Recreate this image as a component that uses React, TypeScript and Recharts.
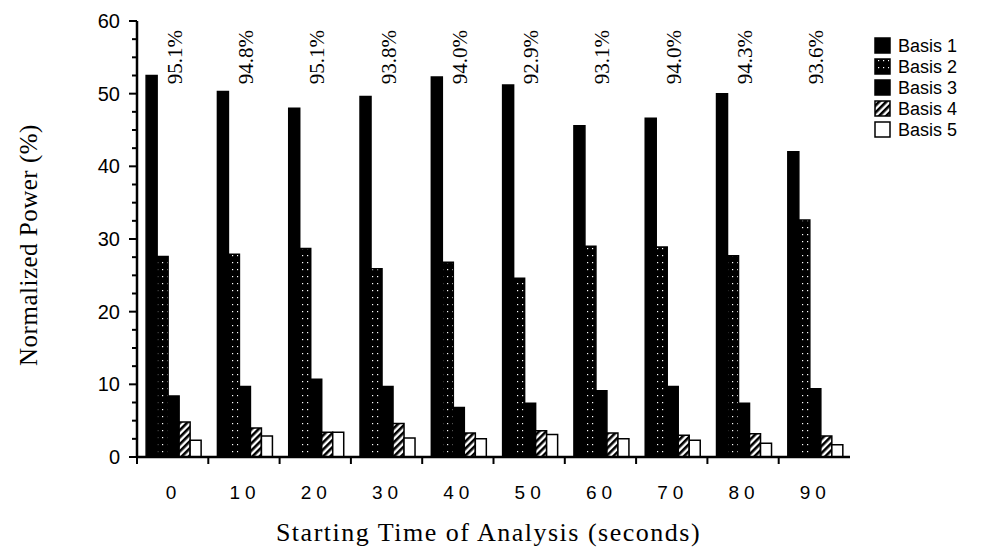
import { BarChart, Bar, XAxis, YAxis, Legend, LabelList } from "recharts"

const categories = ["0", "10", "20", "30", "40", "50", "60", "70", "80", "90"]
const basis1 = [52.5, 50.3, 48.0, 49.6, 52.3, 51.2, 45.6, 46.6, 50.0, 42.0]
const basis2 = [27.6, 27.9, 28.7, 25.9, 26.8, 24.6, 29.0, 28.9, 27.7, 32.6]
const basis3 = [8.4, 9.7, 10.7, 9.7, 6.8, 7.4, 9.1, 9.7, 7.4, 9.4]
const basis4 = [4.8, 4.0, 3.4, 4.6, 3.3, 3.6, 3.3, 3.0, 3.2, 2.9]
const basis5 = [2.3, 2.9, 3.4, 2.6, 2.5, 3.1, 2.5, 2.3, 1.9, 1.7]
const captured = ["95.1%", "94.8%", "95.1%", "93.8%", "94.0%", "92.9%", "93.1%", "94.0%", "94.3%", "93.6%"]
const yTicks = [0, 2.5, 5, 7.5, 10, 12.5, 15, 17.5, 20, 22.5, 25, 27.5, 30, 32.5, 35, 37.5, 40, 42.5, 45, 47.5, 50, 52.5, 55, 57.5, 60]

const data = categories.map((name, i) => ({
  name,
  b1: basis1[i],
  b2: basis2[i],
  b3: basis3[i],
  b4: basis4[i],
  b5: basis5[i],
  pct: captured[i],
}))

const series = [
  { key: "b1", name: "Basis 1", fill: "#000" },
  { key: "b2", name: "Basis 2", fill: "url(#dots)" },
  { key: "b3", name: "Basis 3", fill: "#000" },
  { key: "b4", name: "Basis 4", fill: "url(#hatch)" },
  { key: "b5", name: "Basis 5", fill: "#fff" },
]

const SANS = "'Liberation Sans', Arial, Helvetica, sans-serif"
const SERIF = "'Liberation Serif', 'Times New Roman', serif"
const MARGIN = { top: 21, right: 24, bottom: 61, left: 0 }

function YTick(props: any) {
  const { x, y, payload } = props
  const major = payload.value % 10 === 0
  return (
    <g>
      <line x1={x} x2={x - (major ? 8 : 5)} y1={y} y2={y} stroke="#000" strokeWidth={2} />
      {major && (
        <text x={x - 17} y={y} dy={7} textAnchor="end" fontFamily={SANS} fontSize={20} fill="#000">
          {payload.value}
        </text>
      )}
    </g>
  )
}

function XTick(props: any) {
  const { x, y, payload } = props
  const half = payload.offset ?? 35.6
  return (
    <g>
      <line x1={x - half} x2={x - half} y1={y} y2={y + 7} stroke="#000" strokeWidth={2} />
      <text
        x={x + 1}
        y={y + 42}
        textAnchor="middle"
        fontFamily={SANS}
        fontSize={19}
        letterSpacing={5}
        fill="#000"
      >
        {payload.value}
      </text>
    </g>
  )
}

function PctLabel(props: any) {
  const { x, width, index } = props
  const cx = x + width / 2 + 8
  const cy = MARGIN.top + 9
  return (
    <text
      x={cx}
      y={cy}
      transform={`rotate(-90, ${cx}, ${cy})`}
      textAnchor="end"
      fontFamily={SERIF}
      fontSize={21}
      fill="#000"
    >
      {captured[index]}
    </text>
  )
}

function LegendBox() {
  return (
    <svg width={130} height={110}>
      {series.map((s, i) => (
        <g key={s.key} transform={`translate(0, ${i * 21})`}>
          <rect x={9} y={2} width={15} height={15} fill={s.fill} stroke="#000" strokeWidth={1.5} />
          <text x={32} y={16} fontFamily={SANS} fontSize={18} fill="#000">
            {s.name}
          </text>
        </g>
      ))}
    </svg>
  )
}

export default function App() {
  return (
    <div style={{ position: "absolute", left: 0, top: 0, width: 1004, height: 558, background: "#fff" }}>
      <BarChart width={1004} height={558} data={data} margin={MARGIN} barGap={0} barCategoryGap="12.8%">
        <defs>
          <pattern id="dots" patternUnits="userSpaceOnUse" width="5" height="7">
            <rect width="5" height="7" fill="#000" />
            <rect x="2" y="3" width="1.2" height="1.2" fill="#fff" />
          </pattern>
          <pattern id="hatch" patternUnits="userSpaceOnUse" width="5" height="5" patternTransform="rotate(45)">
            <rect width="5" height="5" fill="#fff" />
            <rect width="2.6" height="5" fill="#000" />
          </pattern>
        </defs>
        <XAxis
          dataKey="name"
          height={40}
          tickSize={0}
          tickMargin={0}
          axisLine={{ stroke: "#000", strokeWidth: 2.5 }}
          tickLine={false}
          tick={<XTick />}
          interval={0}
          label={{
            content: (p: any) => (
              <text
                x={p.viewBox.x + p.viewBox.width / 2 - 5}
                y={p.viewBox.y + 84}
                textAnchor="middle"
                fontFamily={SERIF}
                fontSize={26}
                letterSpacing={1.5}
                fill="#000"
              >
                Starting Time of Analysis (seconds)
              </text>
            ),
          }}
        />
        <XAxis xAxisId="top" dataKey="name" orientation="top" height={0} tick={false} tickLine={false} axisLine={{ stroke: "#000", strokeWidth: 2.5 }} />
        <YAxis
          width={137}
          domain={[0, 60]}
          ticks={yTicks}
          interval={0}
          tickSize={0}
          tickMargin={0}
          tickLine={false}
          axisLine={{ stroke: "#000", strokeWidth: 2.5 }}
          tick={<YTick />}
          label={{
            content: (p: any) => {
              const cx = p.viewBox.x + 37
              const cy = p.viewBox.y + p.viewBox.height / 2 + 6
              return (
                <text
                  x={cx}
                  y={cy}
                  transform={`rotate(-90, ${cx}, ${cy})`}
                  textAnchor="middle"
                  fontFamily={SERIF}
                  fontSize={25}
                  letterSpacing={0.5}
                  fill="#000"
                >
                  Normalized Power (%)
                </text>
              )
            },
          }}
        />
        <YAxis yAxisId="right" orientation="right" width={0} domain={[0, 60]} tick={false} tickLine={false} axisLine={{ stroke: "#000", strokeWidth: 2.5 }} />
        <Legend
          layout="vertical"
          align="right"
          verticalAlign="top"
          content={<LegendBox />}
          wrapperStyle={{ width: 130, height: 110, top: 36, left: 866, right: "auto" }}
        />
        {series.map((s) => (
          <Bar
            key={s.key}
            dataKey={s.key}
            name={s.name}
            fill={s.fill}
            stroke="#000"
            strokeWidth={1.5}
            isAnimationActive={false}
          >
            {s.key === "b3" && <LabelList dataKey="pct" content={<PctLabel />} />}
          </Bar>
        ))}
      </BarChart>
    </div>
  )
}
